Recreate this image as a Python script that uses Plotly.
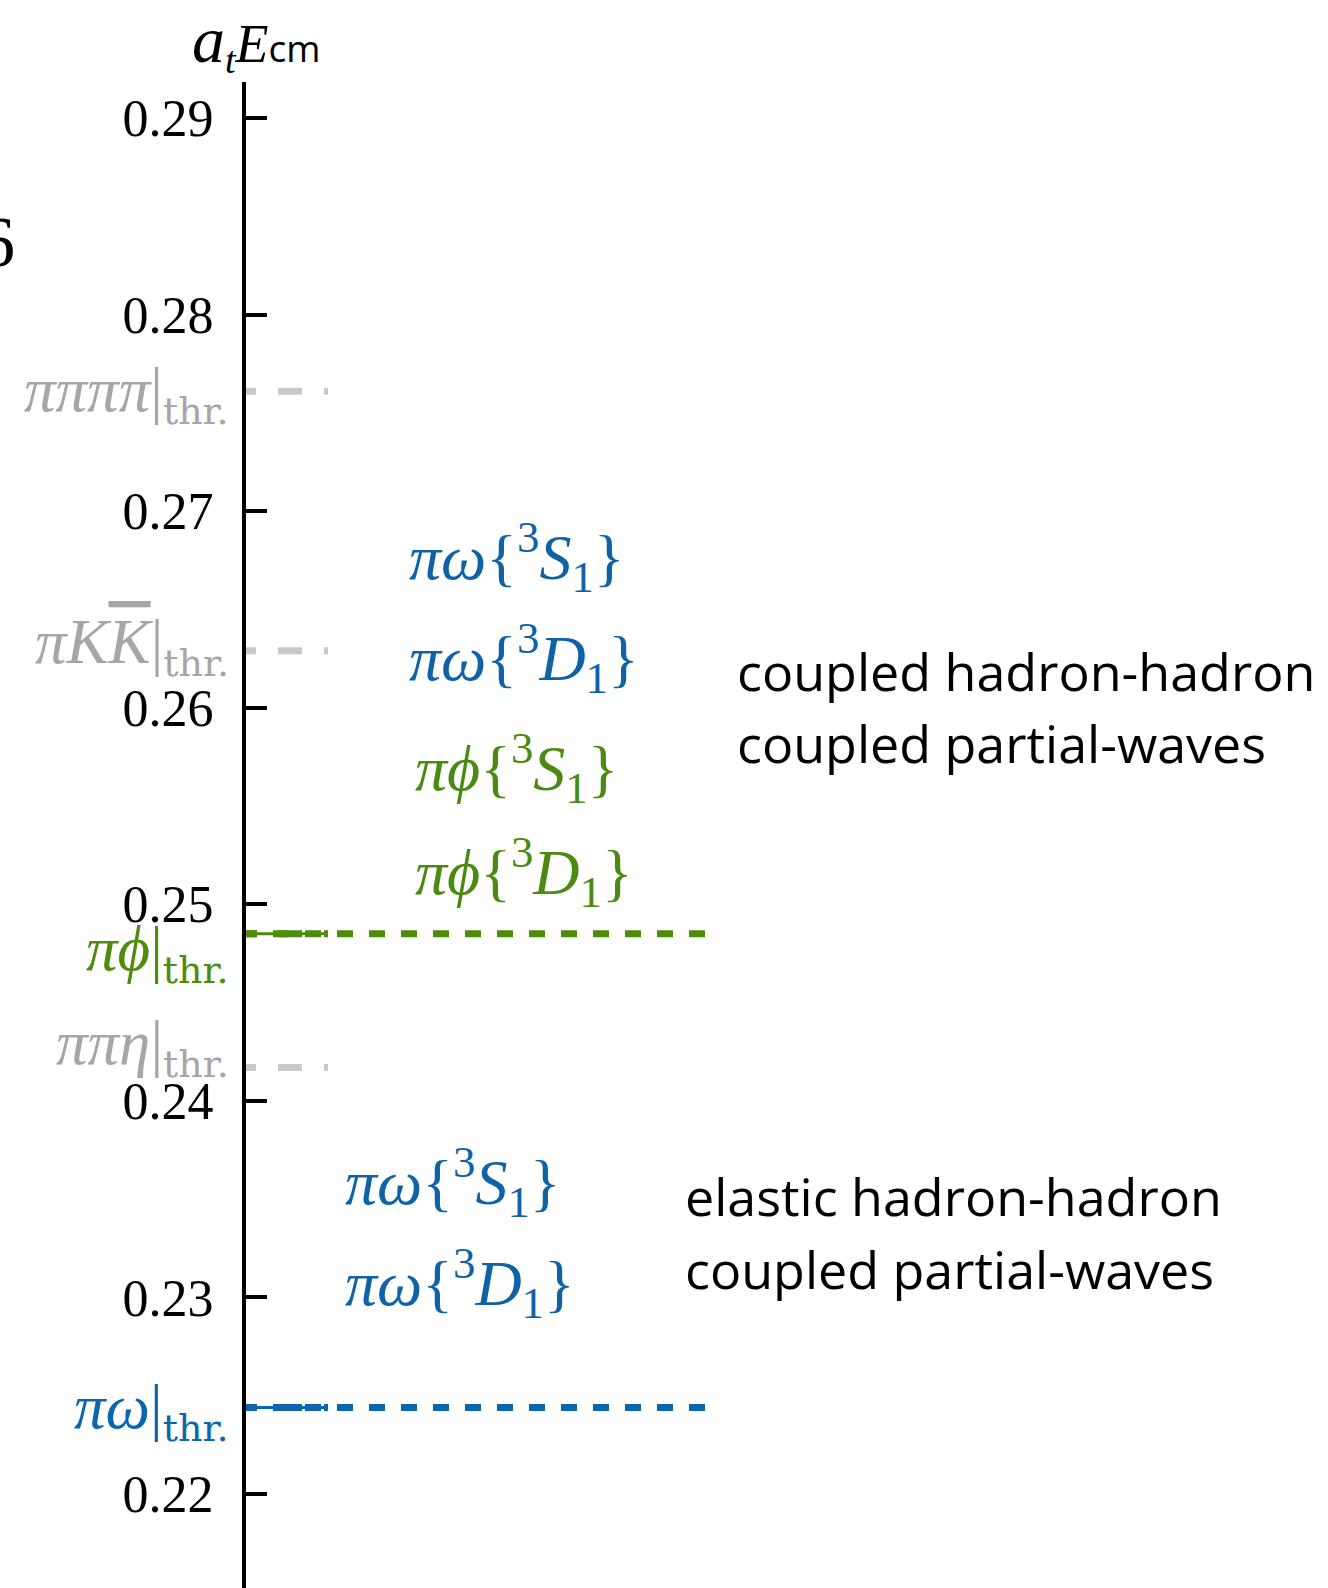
import plotly.graph_objects as go

# --- data -------------------------------------------------------------------
tick_values = [0.22, 0.23, 0.24, 0.25, 0.26, 0.27, 0.28, 0.29]
tick_labels = ["0.22", "0.23", "0.24", "0.25", "0.26", "0.27", "0.28", "0.29"]

# inelastic thresholds (grey, short marks)
grey_thr_names = ["ππππ", "πK<span style='text-decoration:overline'>K</span>", "ππη"]
grey_thr_values = [0.2761, 0.2629, 0.2417]

# hadron-hadron thresholds that bound the analysed regions
main_thr_names = ["πϕ", "πω"]
main_thr_values = [0.2485, 0.2244]
main_thr_colors = ["#4e8c0e", "#0b66ad"]

# channel / partial-wave labels
upper_channels = ["πω", "πω", "πϕ", "πϕ"]
upper_waves = ["S", "D", "S", "D"]
upper_colors = ["#0f62a6", "#0f62a6", "#4a8a10", "#4a8a10"]
lower_channels = ["πω", "πω"]
lower_waves = ["S", "D"]

upper_note = ["coupled hadron-hadron", "coupled partial-waves"]
lower_note = ["elastic hadron-hadron", "coupled partial-waves"]

# --- geometry ---------------------------------------------------------------
W, H = 1328, 1588
AXIS_X = 244
AXIS_TOP = 82
Y_RANGE = [0.215218, 0.291831]
SERIF = "Liberation Serif, Times New Roman, serif"
SANS = "Open Sans"
GREY_TXT = "#a6a6a6"
GREY_LINE = "#c9c9c9"


def py(p):
    """figure pixel row -> paper fraction"""
    return 1 - p / H


def dash_from(first, on, off, n):
    parts = [f"{first}px", f"{off}px"] + [f"{on}px", f"{off}px"] * n
    return ",".join(parts)


SHORT_DASH = "12px,22px,24px,22px,24px,22px"
LONG_DASH = dash_from(13, 16, 16, 16)

fig = go.Figure()

for v in grey_thr_values:
    fig.add_trace(go.Scatter(x=[AXIS_X, 328], y=[v, v], mode="lines",
                             line=dict(color=GREY_LINE, width=7, dash=SHORT_DASH),
                             hoverinfo="skip", showlegend=False))

for v, c in zip(main_thr_values, main_thr_colors):
    fig.add_trace(go.Scatter(x=[AXIS_X, 327], y=[v, v], mode="lines",
                             line=dict(color=c, width=3),
                             hoverinfo="skip", showlegend=False))
    fig.add_trace(go.Scatter(x=[AXIS_X, 328], y=[v, v], mode="lines",
                             line=dict(color=c, width=7, dash=SHORT_DASH),
                             hoverinfo="skip", showlegend=False))
    fig.add_trace(go.Scatter(x=[AXIS_X, 705], y=[v, v], mode="lines",
                             line=dict(color=c, width=7, dash=LONG_DASH),
                             hoverinfo="skip", showlegend=False))

ann = []

# threshold labels left of the axis
SUB = "<sub><span style='font-family:DejaVu Serif;font-size:38px'>thr.</span></sub>"
grey_shift = [-3, 5, 20]
for name, v, s in zip(grey_thr_names, grey_thr_values, grey_shift):
    ann.append(dict(x=231, y=v, xref="x", yref="y", xanchor="right", yanchor="middle",
                    yshift=s, showarrow=False,
                    text=f"<i>{name}</i>|{SUB}",
                    font=dict(family=SERIF, size=63, color=GREY_TXT)))
main_shift = [-19, -3]
for name, v, s, c in zip(main_thr_names, main_thr_values, main_shift, main_thr_colors):
    ann.append(dict(x=231, y=v, xref="x", yref="y", xanchor="right", yanchor="middle",
                    yshift=s, showarrow=False,
                    text=f"<i>{name}</i>|{SUB}",
                    font=dict(family=SERIF, size=63, color=c)))

# partial-wave labels
upper_pos = [(407, 557), (407, 658), (413, 768), (413, 872)]
for ch, w, c, (x, yp) in zip(upper_channels, upper_waves, upper_colors, upper_pos):
    ann.append(dict(x=x, y=py(yp), xref="x", yref="paper", xanchor="left", yanchor="middle",
                    showarrow=False,
                    text=f"<i>{ch}</i>{{<sup>3</sup><i>{w}</i><sub>1</sub>}}",
                    font=dict(family=SERIF, size=64, color=c)))
lower_pos = [(343, 1182), (343, 1283)]
for ch, w, (x, yp) in zip(lower_channels, lower_waves, lower_pos):
    ann.append(dict(x=x, y=py(yp), xref="x", yref="paper", xanchor="left", yanchor="middle",
                    showarrow=False,
                    text=f"<i>{ch}</i>{{<sup>3</sup><i>{w}</i><sub>1</sub>}}",
                    font=dict(family=SERIF, size=64, color="#0f62a6")))

# region descriptions
for txt, yp in zip(upper_note, [670, 742]):
    ann.append(dict(x=735, y=py(yp), xref="x", yref="paper", xanchor="left", yanchor="middle",
                    showarrow=False, text=txt, font=dict(family=SANS, size=52, color="black")))
for txt, yp in zip(lower_note, [1195, 1268]):
    ann.append(dict(x=683, y=py(yp), xref="x", yref="paper", xanchor="left", yanchor="middle",
                    showarrow=False, text=txt, font=dict(family=SANS, size=52, color="black")))

# axis title
ann.append(dict(x=256, y=py(42), xref="x", yref="paper", xanchor="center", yanchor="middle",
                showarrow=False,
                text="<i><span style='font-size:66px'>a</span></i><sub><i>t</i></sub><i>E</i>"
                     "<span style='font-family:Open Sans;font-size:37px'>cm</span>",
                font=dict(family=SERIF, size=54, color="black")))

# neighbouring panel digit at the left edge
ann.append(dict(x=17, y=py(242), xref="x", yref="paper", xanchor="right", yanchor="middle",
                showarrow=False, text="6", font=dict(family=SERIF, size=72, color="black")))

fig.update_layout(
    width=W, height=H, autosize=False,
    margin=dict(l=0, r=0, t=0, b=0),
    paper_bgcolor="white", plot_bgcolor="white",
    showlegend=False,
    annotations=ann,
    xaxis=dict(range=[0, W], domain=[0, 1], visible=False, fixedrange=True),
    yaxis=dict(range=Y_RANGE, domain=[0, (H - AXIS_TOP) / H],
               anchor="free", position=AXIS_X / W, side="left",
               showline=True, linecolor="black", linewidth=4,
               ticks="inside", ticklen=21, tickwidth=4, tickcolor="black",
               tickvals=tick_values, ticktext=tick_labels,
               tickfont=dict(family=SERIF, size=52, color="black"),
               ticklabelstandoff=18,
               showgrid=False, zeroline=False, fixedrange=True),
)

fig.write_html("out.html")
